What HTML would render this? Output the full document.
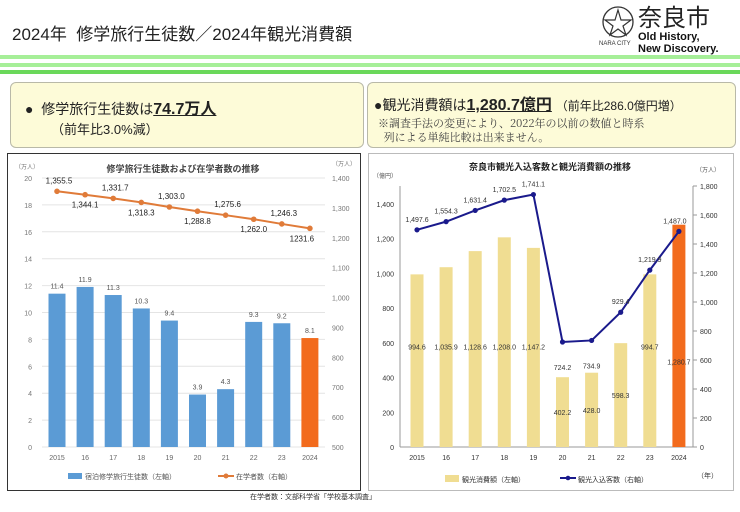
<!DOCTYPE html>
<html><head><meta charset="utf-8">
<style>
body{margin:0;width:740px;height:512px;background:#fff;font-family:"Liberation Sans","Noto Sans CJK JP",sans-serif;position:relative;overflow:hidden}
.abs{position:absolute}
.box{position:absolute;background:#fdfbd8;border:1px solid #b9b9a8;border-radius:6px}
svg text{font-family:"Liberation Sans","Noto Sans CJK JP",sans-serif}
</style></head><body>
<div class="abs" style="left:12px;top:20px;font-size:17px;color:#222">2024年&nbsp;&nbsp;修学旅行生徒数／2024年観光消費額</div>
<div class="abs" style="left:596px;top:2px;width:144px;height:50px">
 <svg width="40" height="44" style="position:absolute;left:2px;top:0"><circle cx="20" cy="20" r="15" fill="none" stroke="#333" stroke-width="1.3"/><path d="M20 8 L23 18 L33 18 L25 24 L28 33 L20 27 L12 33 L15 24 L7 18 L17 18Z" fill="none" stroke="#333" stroke-width="1.2"/><text x="1" y="43" font-size="6" fill="#333">NARA CITY</text></svg>
 <div class="abs" style="left:42px;top:0;font-size:24px;color:#222;font-family:'Noto Sans CJK JP',sans-serif;line-height:28px">奈良市</div>
 <div class="abs" style="left:42px;top:29px;font-size:11px;font-weight:bold;color:#111;line-height:12px">Old History,<br>New Discovery.</div>
</div>
<div class="abs" style="left:0;top:55px;width:740px;height:20px">
 <div class="abs" style="left:0;top:0;width:740px;height:4px;background:#a6ef98"></div>
 <div class="abs" style="left:0;top:8px;width:740px;height:4px;background:#a6ef98"></div>
 <div class="abs" style="left:0;top:15px;width:740px;height:4px;background:#6ad85a"></div>
</div>
<div class="box" style="left:10px;top:82px;width:352px;height:64px">
 <div class="abs" style="left:14px;top:12px;font-size:14px;color:#222">●&nbsp;&nbsp;修学旅行生徒数は<b style="font-size:16px;text-decoration:underline">74.7万人</b></div>
 <div class="abs" style="left:40px;top:36px;font-size:13px;color:#222">（前年比3.0%減）</div>
</div>
<div class="box" style="left:367px;top:82px;width:367px;height:64px">
 <div class="abs" style="left:6px;top:8px;font-size:14px;color:#222;white-space:nowrap">●観光消費額は<b style="font-size:16px;text-decoration:underline">1,280.7億円</b> <span style="font-size:12px">（前年比286.0億円増）</span></div>
 <div class="abs" style="left:10px;top:33px;font-size:11px;color:#444;line-height:14px;font-family:'Noto Serif CJK SC',serif">※調査手法の変更により、2022年の以前の数値と時系<br>&nbsp;&nbsp;列による単純比較は出来ません。</div>
</div>
<svg class="abs" style="left:0;top:0" width="740" height="512" id="charts"></svg>
<div class="abs" style="left:250px;top:492px;font-size:7px;color:#333">在学者数：文部科学省「学校基本調査」</div>
<script>
const years=["2015","16","17","18","19","20","21","22","23","2024"];
const trips=[11.4,11.9,11.3,10.3,9.4,3.9,4.3,9.3,9.2,8.1];
const enrolled=[1355.5,1344.1,1331.7,1318.3,1303.0,1288.8,1275.6,1262.0,1246.3,1231.6];
const enrolledLabels=["1,355.5","1,344.1","1,331.7","1,318.3","1,303.0","1,288.8","1,275.6","1,262.0","1,246.3","1231.6"];
const spend=[994.6,1035.9,1128.6,1208.0,1147.2,402.2,428.0,598.3,994.7,1280.7];
const visitors=[1497.6,1554.3,1631.4,1702.5,1741.1,724.2,734.9,929.4,1219.9,1487.0];
const leftTicks=[0,2,4,6,8,10,12,14,16,18,20];
const rightTicks1=[500,600,700,800,900,1000,1100,1200,1300,1400];
const leftTicks2=[0,200,400,600,800,1000,1200,1400];
const rightTicks2=[0,200,400,600,800,1000,1200,1400,1600,1800];
const NS="http://www.w3.org/2000/svg";
const svg=document.getElementById('charts');
function mk(t,a,txt){const e=document.createElementNS(NS,t);for(const k in a)e.setAttribute(k,a[k]);if(txt!==undefined)e.textContent=txt;svg.appendChild(e);return e;}
const fmt=v=>v.toLocaleString('en-US',{minimumFractionDigits:1,maximumFractionDigits:1});
// panel 1
let p=mk('rect',{x:7.5,y:153.5,width:353,height:337,fill:'#fff',stroke:'#333'});


mk('text',{x:183,y:172,'font-size':9,'text-anchor':'middle',fill:'#444','font-weight':'bold'},'修学旅行生徒数および在学者数の推移');
mk('text',{x:15,y:169,'font-size':6,fill:'#777'},'（万人）');
mk('text',{x:332,y:166,'font-size':6,fill:'#777'},'（万人）');
const x1=i=>57+i*28.1, y1=v=>447-v*(269/20), y1r=v=>447-(v-500)*(269/900);
leftTicks.forEach(t=>{mk('line',{x1:42,x2:325,y1:y1(t),y2:y1(t),stroke:'#e4e4e4'});
 const l=mk('text',{x:32,y:y1(t)+3,'font-size':7,fill:'#777','text-anchor':'end'},t);
 
 });
rightTicks1.forEach(t=>{const l=mk('text',{x:332,y:y1r(t)+3,'font-size':7,fill:'#777'},t.toLocaleString('en-US'));
 
 });
trips.forEach((v,i)=>{const b=mk('rect',{x:x1(i)-8.5,y:y1(v),width:17,height:447-y1(v),fill:i==9?'#f26b1d':'#5b9bd5'});
 
 
 mk('text',{x:x1(i),y:y1(v)-5,'font-size':7,fill:'#555','text-anchor':'middle'},v.toFixed(1));
 mk('text',{x:x1(i),y:460,'font-size':7,fill:'#666','text-anchor':'middle'},years[i]);});
let pts=enrolled.map((v,i)=>x1(i)+','+y1r(v)).join(' ');
const ln=mk('polyline',{points:pts,fill:'none',stroke:'#e07b39','stroke-width':2});


enrolled.forEach((v,i)=>{const c=mk('circle',{cx:x1(i),cy:y1r(v),r:2.8,fill:'#e07b39'});
 
 
 const up=i%2==0;
 mk('text',{x:x1(i)+(i==9?-8:(up?2:0)),y:y1r(v)+(up?-8:13),'font-size':8,fill:'#222','text-anchor':'middle','font-family':'Liberation Mono'},enrolledLabels[i]);});
mk('rect',{x:68,y:473,width:14,height:6,fill:'#5b9bd5'});
mk('text',{x:85,y:479,'font-size':7,fill:'#555'},'宿泊修学旅行生徒数（左軸）');
mk('line',{x1:218,x2:234,y1:476,y2:476,stroke:'#e07b39','stroke-width':2});
mk('circle',{cx:226,cy:476,r:2.5,fill:'#e07b39'});
mk('text',{x:236,y:479,'font-size':7,fill:'#555'},'在学者数（右軸）');
// panel 2
p=mk('rect',{x:368.5,y:153.5,width:365,height:337,fill:'#fff',stroke:'#bbb'});


mk('text',{x:550,y:170,'font-size':9,fill:'#222','text-anchor':'middle','font-weight':'bold'},'奈良市観光入込客数と観光消費額の推移');
mk('text',{x:373,y:178,'font-size':6,fill:'#555'},'（億円）');
mk('text',{x:696,y:172,'font-size':6,fill:'#555'},'（万人）');
const x2=i=>417+i*29.1, y2=v=>447-v*(243/1400), y2r=v=>447-v*(261/1800);
mk('line',{x1:400,x2:400,y1:186,y2:447,stroke:'#999'});
mk('line',{x1:400,x2:693,y1:447,y2:447,stroke:'#999'});
mk('line',{x1:693,x2:693,y1:186,y2:447,stroke:'#999'});
leftTicks2.forEach(t=>{const l=mk('text',{x:394,y:y2(t)+3,'font-size':7,fill:'#333','text-anchor':'end'},t.toLocaleString('en-US'));
 
 });
rightTicks2.forEach(t=>{mk('line',{x1:693,x2:697,y1:y2r(t),y2:y2r(t),stroke:'#999'});
 const l=mk('text',{x:700,y:y2r(t)+3,'font-size':7,fill:'#333'},t.toLocaleString('en-US'));
 
 });
spend.forEach((v,i)=>{const b=mk('rect',{x:x2(i)-6.5,y:y2(v),width:13,height:447-y2(v),fill:i==9?'#f26b1d':'#f0dd92'});
 
 
 const ly=i>=5&&i<=7?y2(v/2)+3:(i==9?y2(v)+140:y2(580)+3);
 mk('text',{x:x2(i),y:ly,'font-size':7,fill:'#333','text-anchor':'middle'},fmt(v));
 mk('text',{x:x2(i),y:460,'font-size':7,fill:'#333','text-anchor':'middle'},years[i]);});
pts=visitors.map((v,i)=>x2(i)+','+y2r(v)).join(' ');
const ln2=mk('polyline',{points:pts,fill:'none',stroke:'#1a1a8c','stroke-width':2});


visitors.forEach((v,i)=>{const c=mk('circle',{cx:x2(i),cy:y2r(v),r:2.6,fill:'#1a1a8c'});
 
 
 const below=i==5||i==6;
 mk('text',{x:x2(i)+(i==9?-4:0),y:below?y2r(v)+28:y2r(v)-8,'font-size':7,fill:'#333','text-anchor':'middle'},fmt(v));});
mk('rect',{x:445,y:475,width:14,height:7,fill:'#f0dd92'});
mk('text',{x:462,y:482,'font-size':7,fill:'#333'},'観光消費額（左軸）');
mk('line',{x1:560,x2:576,y1:478,y2:478,stroke:'#1a1a8c','stroke-width':2});
mk('circle',{cx:568,cy:478,r:2.3,fill:'#1a1a8c'});
mk('text',{x:578,y:482,'font-size':7,fill:'#333'},'観光入込客数（右軸）');
mk('text',{x:697,y:478,'font-size':7,fill:'#333'},'（年）');
</script>
</body></html>
